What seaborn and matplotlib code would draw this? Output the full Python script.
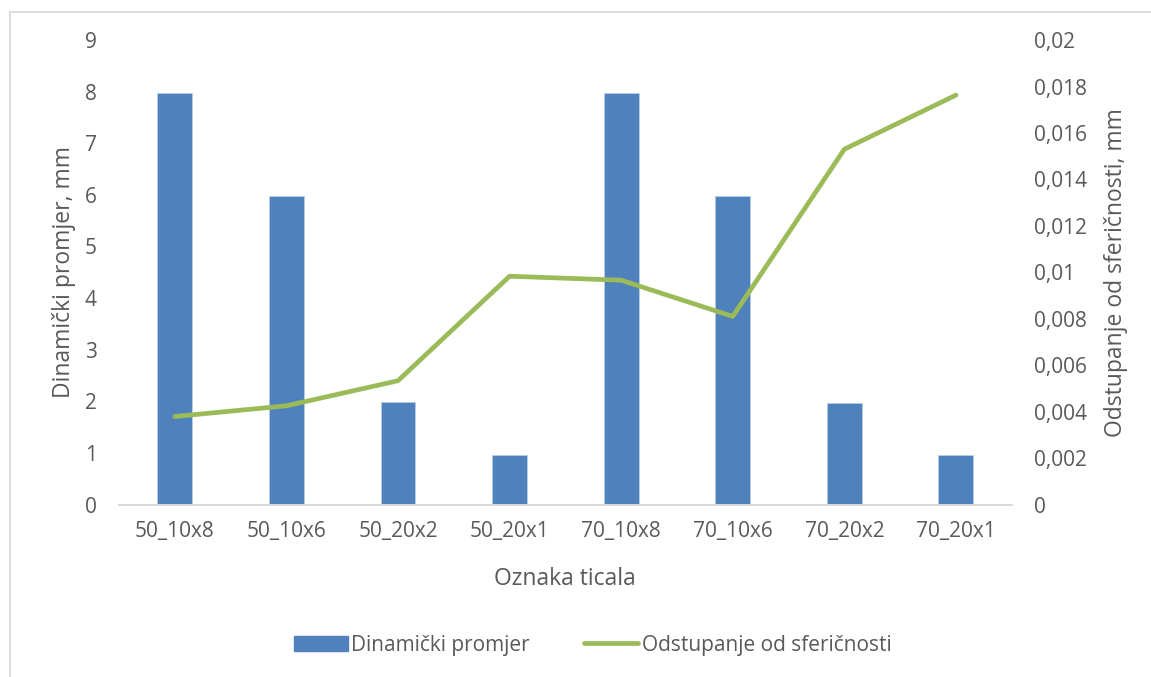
import seaborn as sns
import matplotlib.pyplot as plt
import numpy as np
import pandas as pd
from matplotlib.patches import Rectangle
from matplotlib.lines import Line2D
from matplotlib.ticker import FuncFormatter, MultipleLocator

categories = ["50_10x8", "50_10x6", "50_20x2", "50_20x1",
              "70_10x8", "70_10x6", "70_20x2", "70_20x1"]
dinamicki_promjer = [7.98, 5.98, 1.98, 0.96, 7.97, 5.97, 1.96, 0.95]
odstupanje = [0.00379, 0.00425, 0.00533, 0.00983, 0.00966, 0.0081, 0.0153, 0.01763]

bar_color = "#4F81BD"
line_color = "#9BBB59"
text_color = "#595959"
axis_color = "#D9D9D9"

sns.set_style("white")
plt.rcParams['font.family'] = ['Open Sans', 'DejaVu Sans']

df = pd.DataFrame({
    "oznaka": categories,
    "pos": np.arange(len(categories)),
    "promjer": dinamicki_promjer,
    "odstupanje": odstupanje,
})

fig = plt.figure(figsize=(11.51, 6.77), dpi=100)
ax = fig.add_axes([0.1034, 0.2548, 0.7756, 0.686])

# outer chart border (only top and left edges are inside the image)
fig.patches.append(Rectangle((0.0087, -0.2), 1.2, 1.182, transform=fig.transFigure,
                             fill=False, edgecolor=axis_color, linewidth=1.3))

sns.barplot(data=df, x="oznaka", y="promjer", ax=ax, color=bar_color,
            width=0.313, saturation=1, edgecolor="#B9CDE5", linewidth=0.6)
ax.set_xlim(-0.5, len(categories) - 0.5)
ax.set_ylim(0, 9)
ax.yaxis.set_major_locator(MultipleLocator(1))

ax2 = ax.twinx()
sns.lineplot(data=df, x="pos", y="odstupanje", ax=ax2, color=line_color,
             linewidth=3.4, solid_capstyle="round", solid_joinstyle="round")
ax2.set_ylim(0, 0.02)
ax2.yaxis.set_major_locator(MultipleLocator(0.002))
ax2.yaxis.set_major_formatter(FuncFormatter(
    lambda v, p: "0" if abs(v) < 1e-12 else f"{v:.3f}".rstrip("0").replace(".", ",")))
ax2.set_xlim(-0.5, len(categories) - 0.5)

for a in (ax, ax2):
    for s in ("top", "left", "right"):
        a.spines[s].set_visible(False)
    a.spines["bottom"].set_color(axis_color)
    a.spines["bottom"].set_linewidth(1.2)
    a.tick_params(axis="y", length=0, labelsize=15, labelcolor=text_color, pad=16)

ax.set_xticks(np.arange(len(categories)))
ax.set_xticklabels(categories)
ax.set_xticks(np.arange(-0.5, len(categories), 1), minor=True)
ax.tick_params(axis="x", which="major", length=0, labelsize=15,
               labelcolor=text_color, pad=12)
ax.tick_params(axis="x", which="minor", length=7, color=axis_color, width=1.2)

ax.set_xlabel("Oznaka ticala", fontsize=16.5, color=text_color, labelpad=18)
ax.set_ylabel("Dinamički promjer, mm", fontsize=16.5, color=text_color, labelpad=6)
ax2.set_ylabel("Odstupanje od sferičnosti, mm", fontsize=16.5, color=text_color, labelpad=12)

handles = [Rectangle((0, 0), 1, 1, color=bar_color),
           Line2D([0], [0], color=line_color, linewidth=3.4, solid_capstyle="round")]
fig.legend(handles, ["Dinamički promjer", "Odstupanje od sferičnosti"],
           loc="center", bbox_to_anchor=(0.515, 0.047), ncol=2, frameon=False,
           fontsize=15, labelcolor=text_color, handlelength=2.6,
           handletextpad=0.15, columnspacing=2.6)

fig.savefig("out.png", dpi=100)
